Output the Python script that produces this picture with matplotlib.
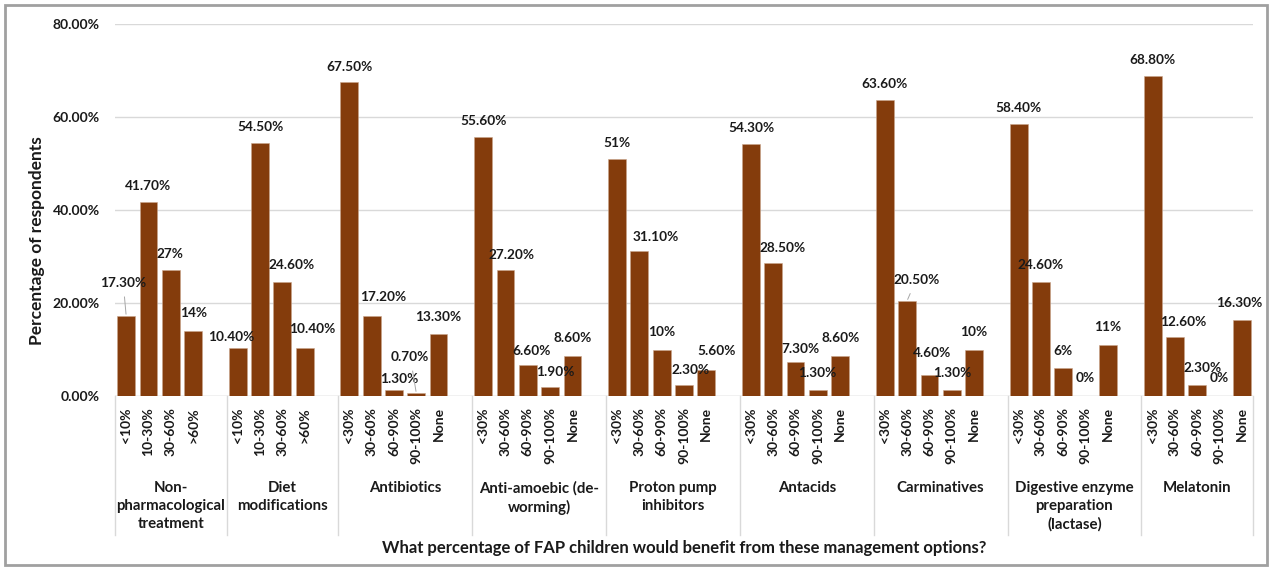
import matplotlib.pyplot as plt
import matplotlib.transforms as mtransforms
from matplotlib.patches import Rectangle

# Survey answers, grouped by management option
groups = ['Non-\npharmacological\ntreatment', 'Diet\nmodifications', 'Antibiotics',
          'Anti-amoebic (de-\nworming)', 'Proton pump\ninhibitors', 'Antacids',
          'Carminatives', 'Digestive enzyme\npreparation\n(lactase)', 'Melatonin']
cats_a = ['<10%', '10-30%', '30-60%', '>60%']
cats_b = ['<30%', '30-60%', '60-90%', '90-100%', 'None']
group_cats = [cats_a, cats_a] + [cats_b] * 7

non_pharm = [17.3, 41.7, 27, 14]
diet = [10.4, 54.5, 24.6, 10.4]
antibiotics = [67.5, 17.2, 1.3, 0.7, 13.3]
anti_amoebic = [55.6, 27.2, 6.6, 1.9, 8.6]
ppi = [51, 31.1, 10, 2.3, 5.6]
antacids = [54.3, 28.5, 7.3, 1.3, 8.6]
carminatives = [63.6, 20.5, 4.6, 1.3, 10]
enzyme = [58.4, 24.6, 6, 0, 11]
melatonin = [68.8, 12.6, 2.3, 0, 16.3]
series = [non_pharm, diet, antibiotics, anti_amoebic, ppi, antacids,
          carminatives, enzyme, melatonin]

# label text per bar (as printed)
label_txt = [['17.30%', '41.70%', '27%', '14%'],
             ['10.40%', '54.50%', '24.60%', '10.40%'],
             ['67.50%', '17.20%', '1.30%', '0.70%', '13.30%'],
             ['55.60%', '27.20%', '6.60%', '1.90%', '8.60%'],
             ['51%', '31.10%', '10%', '2.30%', '5.60%'],
             ['54.30%', '28.50%', '7.30%', '1.30%', '8.60%'],
             ['63.60%', '20.50%', '4.60%', '1.30%', '10%'],
             ['58.40%', '24.60%', '6%', '0%', '11%'],
             ['68.80%', '12.60%', '2.30%', '0%', '16.30%']]

# label nudges in pixels (dx, dy above bar top), and which get a leader line
nudge = [[(-3, 33), (0, 16), (-1, 16), (0, 18)],
         [(-7, 11), (0, 16), (9, 17), (8, 19)],
         [(0, 15), (12, 19), (5, 11), (-6, 36), (0, 17)],
         [(0, 16), (6, 15), (4, 14), (5, 15), (0, 18)],
         [(0, 16), (16, 14), (0, 17), (7, 15), (10, 19)],
         [(0, 16), (9, 15), (5, 13), (-1, 17), (0, 18)],
         [(0, 16), (9, 21), (3, 22), (0, 17), (0, 17)],
         [(0, 16), (0, 17), (0, 17), (0, 18), (0, 18)],
         [(0, 16), (8, 15), (5, 17), (0, 18), (-3, 17)]]
leaders = {(0, 0), (2, 3), (6, 1)}

bar_color = '#843C0C'
txt_color = '#1a1a1a'
font = ['Lato', 'DejaVu Sans']
plt.rcParams['font.family'] = font
plt.rcParams['font.weight'] = 'bold'

W, H = 1269, 568
fig = plt.figure(figsize=(W / 100, H / 100), dpi=100)
ax = fig.add_axes([115 / W, 172 / H, (1253 - 115) / W, 372 / H])

# one empty slot between groups
xs, xlabels, spans = [], [], []
pos = 0
for gi, vals in enumerate(series):
    start = pos
    n = len(vals)
    xs.append(list(range(start, start + n)))
    xlabels += group_cats[gi]
    end = start + n + 0.5 if gi < len(series) - 1 else start + n - 0.5
    spans.append((start - 0.5, end))
    pos += n + 1

for gi, vals in enumerate(series):
    ax.bar(xs[gi], vals, width=0.8, color=bar_color, edgecolor='#c9a58c',
           linewidth=0.4, zorder=3)
    for bi, v in enumerate(vals):
        dx, dy = nudge[gi][bi]
        arrow = None
        if (gi, bi) in leaders:
            arrow = dict(arrowstyle='-', color='#a6a6a6', lw=0.7,
                         shrinkA=4, shrinkB=1)
        ax.annotate(label_txt[gi][bi], xy=(xs[gi][bi], v),
                    xytext=(dx, dy), textcoords='offset pixels',
                    ha='center', va='center', fontsize=9.8, color=txt_color,
                    arrowprops=arrow, zorder=4)

ax.set_xlim(-0.5, pos - 1.5)
ax.set_ylim(0, 80)
ax.set_yticks([0, 20, 40, 60, 80])
ax.set_yticklabels([f'{t:.2f}%' for t in [0, 20, 40, 60, 80]])
ax.yaxis.grid(True, color='#d9d9d9', lw=1)
ax.set_axisbelow(True)
for s in ax.spines.values():
    s.set_visible(False)
ax.tick_params(axis='y', length=0, pad=11, labelsize=10, labelcolor=txt_color)

flat_x = [x for g in xs for x in g]
ax.set_xticks(flat_x)
ax.set_xticklabels(xlabels, rotation=90, va='top', ha='center')
ax.tick_params(axis='x', length=0, pad=8, labelsize=10, labelcolor=txt_color)

# category separators and group names under the axis
trans = mtransforms.blended_transform_factory(ax.transData, ax.transAxes)
ax.axhline(0, color='#d9d9d9', lw=1, zorder=2)
edges = [s[0] for s in spans] + [spans[-1][1]]
for e in edges:
    ax.plot([e, e], [0, -0.374], transform=trans, color='#d9d9d9', lw=1,
            clip_on=False)
for gi, (a, b) in enumerate(spans):
    ax.text((a + b) / 2, -0.228, groups[gi], transform=trans, ha='center',
            va='top', fontsize=10.8, color=txt_color, linespacing=1.35)

fig.text(37 / W, 1 - 241 / H, 'Percentage of respondents', rotation=90,
         ha='center', va='center', fontsize=12.5, color=txt_color)
fig.text(684 / W, 1 - 548 / H,
         'What percentage of FAP children would benefit from these management options?',
         ha='center', va='center', fontsize=12, color=txt_color)

# outer frame
fig.patches.append(Rectangle((5 / W, 3 / H), 1262 / W, 560 / H,
                             transform=fig.transFigure, fill=False,
                             edgecolor='#a0a0a0', lw=2))

fig.savefig('out.png', dpi=100)
